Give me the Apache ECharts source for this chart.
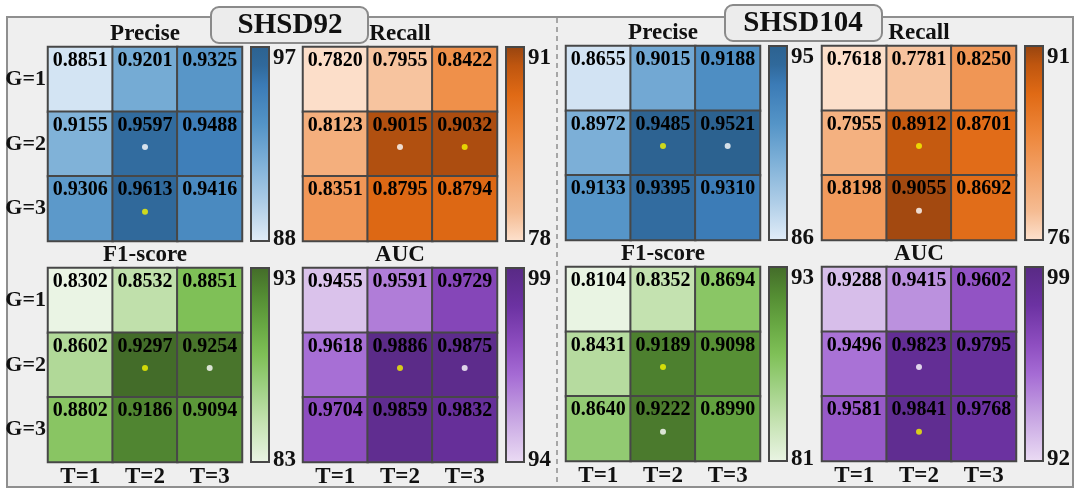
<!DOCTYPE html>
<html>
<head>
<meta charset="utf-8">
<script src="https://cdn.jsdelivr.net/npm/echarts@6/dist/echarts.min.js"></script>
<style>
html,body{margin:0;padding:0;background:#fff;}
#chart{width:1075px;height:489px;}
</style>
</head>
<body>
<div id="chart"></div>
<script>
// ---------- data ----------
const tLabels = ['T=1', 'T=2', 'T=3'];
const gLabels = ['G=1', 'G=2', 'G=3'];
const metricNames = ['Precise', 'Recall', 'F1-score', 'AUC'];
const datasetNames = ['SHSD92', 'SHSD104'];

// rows: G=1..3, columns: T=1..3
const shsd92Precise = [[0.8851, 0.9201, 0.9325], [0.9155, 0.9597, 0.9488], [0.9306, 0.9613, 0.9416]];
const shsd92Recall  = [[0.7820, 0.7955, 0.8422], [0.8123, 0.9015, 0.9032], [0.8351, 0.8795, 0.8794]];
const shsd92F1      = [[0.8302, 0.8532, 0.8851], [0.8602, 0.9297, 0.9254], [0.8802, 0.9186, 0.9094]];
const shsd92AUC     = [[0.9455, 0.9591, 0.9729], [0.9618, 0.9886, 0.9875], [0.9704, 0.9859, 0.9832]];
const shsd104Precise = [[0.8655, 0.9015, 0.9188], [0.8972, 0.9485, 0.9521], [0.9133, 0.9395, 0.9310]];
const shsd104Recall  = [[0.7618, 0.7781, 0.8250], [0.7955, 0.8912, 0.8701], [0.8198, 0.9055, 0.8692]];
const shsd104F1      = [[0.8104, 0.8352, 0.8694], [0.8431, 0.9189, 0.9098], [0.8640, 0.9222, 0.8990]];
const shsd104AUC     = [[0.9288, 0.9415, 0.9602], [0.9496, 0.9823, 0.9795], [0.9581, 0.9841, 0.9768]];

// colorbar ranges (x100): [min, max] for Precise, Recall, F1-score, AUC
const shsd92BarRange  = [[88, 97], [78, 91], [83, 93], [94, 99]];
const shsd104BarRange = [[86, 95], [76, 91], [81, 93], [92, 99]];

// marker dots: [T index, G index] per metric
const shsd92White   = [[1, 1], [1, 1], [2, 1], [2, 1]];
const shsd92Yellow  = [[1, 2], [2, 1], [1, 1], [1, 1]];
const shsd104White  = [[2, 1], [1, 2], [1, 2], [1, 1]];
const shsd104Yellow = [[1, 1], [1, 1], [1, 1], [1, 2]];

// ---------- styles ----------
const FONT = 'Liberation Serif';
const cmaps = [
  [[0, '#e2edf8'], [0.2, '#aecde7'], [0.4, '#7fb1d8'], [0.6, '#5494c7'], [0.8, '#3b7bb6'], [0.9, '#30699b'], [1, '#2c6290']],
  [[0, '#fde2cf'], [0.15, '#f5bc93'], [0.35, '#f2a167'], [0.55, '#ed863a'], [0.75, '#e06a15'], [0.9, '#bf560f'], [1, '#964410']],
  [[0, '#eaf4e4'], [0.2, '#c6e3b3'], [0.4, '#9ccf7f'], [0.55, '#7fc057'], [0.7, '#68a843'], [0.85, '#548d33'], [1, '#436b29']],
  [[0, '#ebdcf4'], [0.25, '#c4a0e1'], [0.45, '#a56bd4'], [0.6, '#8e4ec0'], [0.8, '#6c32a2'], [1, '#582a84']]
];
function cmapColors(cm) {
  const out = [];
  const n = 21;
  for (let i = 0; i < n; i++) {
    const t = i / (n - 1);
    let k = 0;
    while (k < cm.length - 2 && t > cm[k + 1][0]) k++;
    const [t0, c0] = cm[k], [t1, c1] = cm[k + 1];
    const f = (t - t0) / (t1 - t0);
    const a = parseInt(c0.slice(1), 16), b = parseInt(c1.slice(1), 16);
    const ch = s => Math.round(((a >> s) & 255) * (1 - f) + ((b >> s) & 255) * f);
    out.push('rgb(' + ch(16) + ',' + ch(8) + ',' + ch(0) + ')');
  }
  return out;
}

// layout
const SIZE = 194;
const panels = [
  { name: datasetNames[0], data: [shsd92Precise, shsd92Recall, shsd92F1, shsd92AUC], range: shsd92BarRange,
    white: shsd92White, yellow: shsd92Yellow, lefts: [48, 303], tops: [47, 268], showY: true },
  { name: datasetNames[1], data: [shsd104Precise, shsd104Recall, shsd104F1, shsd104AUC], range: shsd104BarRange,
    white: shsd104White, yellow: shsd104Yellow, lefts: [566, 822], tops: [46, 267], showY: false }
];

const grids = [], xAxes = [], yAxes = [], series = [], visualMaps = [];
const graphics = [];

graphics.push({ type: 'rect', z: -10, shape: { x: 7, y: 17, width: 1066, height: 470 },
  style: { fill: '#efefef', stroke: '#8f8f8f', lineWidth: 2 } });
graphics.push({ type: 'line', z: -9, shape: { x1: 557, y1: 18, x2: 557, y2: 486 },
  style: { stroke: '#8f8f8f', lineWidth: 1.5, lineDash: [5, 4] } });

const titleBoxes = [{ x: 211, y: 7, w: 157, cx: 290 }, { x: 725, y: 5, w: 157, cx: 803 }];

let gi = 0;
panels.forEach((p, pi) => {
  const tb = titleBoxes[pi];
  graphics.push({ type: 'rect', z: -5, shape: { x: tb.x, y: tb.y, width: tb.w, height: 36, r: 8 },
    style: { fill: '#ececec', stroke: '#8a8a8a', lineWidth: 2 } });
  graphics.push({ type: 'text', z: -4, style: { text: p.name, x: tb.cx, y: tb.y + 19,
    align: 'center', verticalAlign: 'middle', textAlign: 'center', textVerticalAlign: 'middle',
    fontFamily: FONT, fontWeight: 'bold', fontSize: 29, fill: '#111' } });

  for (let m = 0; m < 4; m++) {
    const r = Math.floor(m / 2), c = m % 2;
    const left = p.lefts[c], top = p.tops[r];
    grids.push({ left: left, top: top, width: SIZE, height: SIZE, containLabel: false });
    xAxes.push({ type: 'category', gridIndex: gi, data: tLabels, position: 'bottom',
      axisLine: { show: false }, axisTick: { show: false }, splitLine: { show: false },
      axisLabel: { show: r === 1, fontFamily: FONT, fontWeight: 'bold', fontSize: 23, color: '#111', margin: 4 } });
    yAxes.push({ type: 'category', gridIndex: gi, data: gLabels, inverse: true,
      axisLine: { show: false }, axisTick: { show: false }, splitLine: { show: false },
      axisLabel: { show: p.showY && c === 0, fontFamily: FONT, fontWeight: 'bold', fontSize: 22, color: '#111', margin: 2 } });

    const mat = p.data[m];
    const hd = [];
    mat.forEach((row, gy) => row.forEach((v, tx) => hd.push([tx, gy, v])));
    const rng = p.range[m];
    const si = series.length;
    series.push({ type: 'heatmap', xAxisIndex: gi, yAxisIndex: gi, data: hd,
      itemStyle: { borderColor: '#474747', borderWidth: 2 },
      emphasis: { disabled: true },
      label: { show: true, position: 'insideTop', distance: 5,
        formatter: q => q.value[2].toFixed(4),
        fontFamily: FONT, fontWeight: 'bold', fontSize: 20, color: '#000' } });
    visualMaps.push({ type: 'continuous', show: false, seriesIndex: si, dimension: 2,
      min: rng[0] / 100, max: rng[1] / 100, inRange: { color: cmapColors(cmaps[m]) } });
    series.push({ type: 'scatter', xAxisIndex: gi, yAxisIndex: gi, data: [p.white[m]],
      symbolSize: 6, symbolOffset: [0, 3], itemStyle: { color: '#ffffff' }, z: 5, silent: true });
    series.push({ type: 'scatter', xAxisIndex: gi, yAxisIndex: gi, data: [p.yellow[m]],
      symbolSize: 6, symbolOffset: [0, 3], itemStyle: { color: '#f5f500' }, z: 5, silent: true });

    graphics.push({ type: 'text', style: { text: metricNames[m], x: left + SIZE / 2, y: top - 13,
      align: 'center', verticalAlign: 'middle', textAlign: 'center', textVerticalAlign: 'middle',
      fontFamily: FONT, fontWeight: 'bold', fontSize: 23, fill: '#111' } });

    const bx = left + SIZE + 9;
    graphics.push({ type: 'rect', shape: { x: bx, y: top, width: 18, height: SIZE },
      style: { fill: new echarts.graphic.LinearGradient(0, 1, 0, 0,
        cmaps[m].map(s => ({ offset: s[0], color: s[1] }))), stroke: '#474747', lineWidth: 2 } });
    graphics.push({ type: 'text', style: { text: String(rng[1]), x: bx + 22, y: top,
      align: 'left', verticalAlign: 'top', textAlign: 'left', textVerticalAlign: 'top',
      fontFamily: FONT, fontWeight: 'bold', fontSize: 23, fill: '#111' } });
    graphics.push({ type: 'text', style: { text: String(rng[0]), x: bx + 22, y: top + SIZE + 10,
      align: 'left', verticalAlign: 'bottom', textAlign: 'left', textVerticalAlign: 'bottom',
      fontFamily: FONT, fontWeight: 'bold', fontSize: 23, fill: '#111' } });
    gi++;
  }
});

const chart = echarts.init(document.getElementById('chart'), null, { renderer: 'canvas' });
chart.setOption({
  animation: false,
  backgroundColor: '#ffffff',
  grid: grids, xAxis: xAxes, yAxis: yAxes,
  visualMap: visualMaps,
  series: series,
  graphic: graphics
});
</script>
</body>
</html>
